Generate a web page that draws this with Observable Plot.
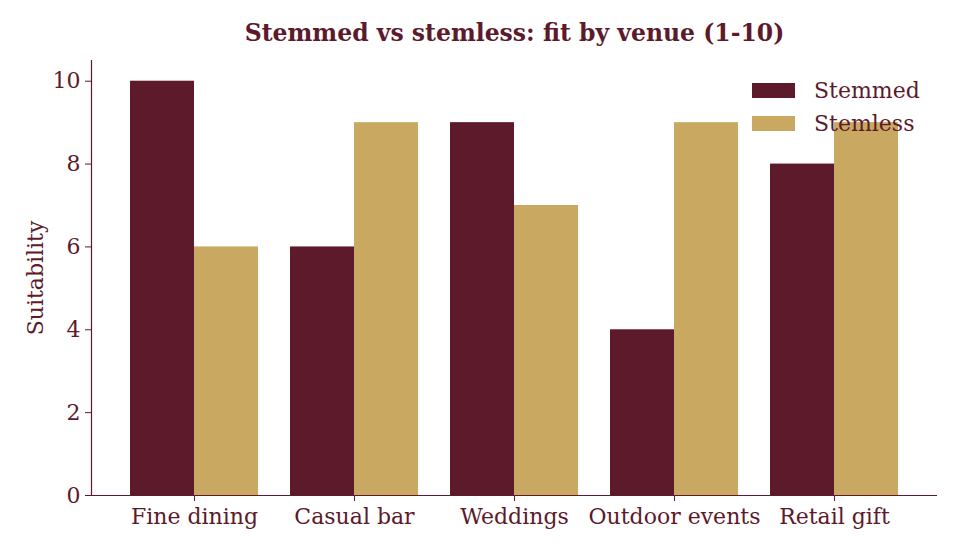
<!DOCTYPE html>
<html>
<head>
<meta charset="utf-8">
<script src="https://cdn.jsdelivr.net/npm/d3@7"></script>
<script src="https://cdn.jsdelivr.net/npm/@observablehq/plot@0.6"></script>
<style>
  html, body { margin: 0; padding: 0; background: #fff; }
  #wrap { position: relative; width: 960px; height: 552px; font-family: "DejaVu Serif", serif; color: #5c1a2b; }
  #legend { position: absolute; left: 752px; top: 74px; font-size: 22px; line-height: 33px; }
  #legend .row { display: flex; align-items: center; }
  #legend .sw { width: 43px; height: 15px; margin-right: 19px; }
</style>
</head>
<body>
<div id="wrap"><div id="legend"></div></div>
<script>
const venues = ["Fine dining", "Casual bar", "Weddings", "Outdoor events", "Retail gift"];
const stemmed = [10, 6, 9, 4, 8];
const stemless = [6, 9, 7, 9, 9];
const seriesNames = ["Stemmed", "Stemless"];
const seriesColors = ["#5c1a2b", "#c9a862"];
const yTicks = [0, 2, 4, 6, 8, 10];
const title = "Stemmed vs stemless: fit by venue (1-10)";

const dataStemmed = venues.map((v, i) => ({venue: v, value: stemmed[i]}));
const dataStemless = venues.map((v, i) => ({venue: v, value: stemless[i]}));

const W = 960, H = 552;
const mL = 91, mR = 23, mT = 60, mB = 57;
const bandwidth = (W - mL - mR) / (venues.length - 0.2 + 2 * 0.24375) * 0.8;
const half = bandwidth / 2;
const ink = "#5c1a2b";

const chart = Plot.plot({
  width: W,
  height: H,
  marginLeft: mL,
  marginRight: mR,
  marginTop: mT,
  marginBottom: mB,
  style: {fontFamily: "DejaVu Serif, serif", fontSize: "22px", color: ink, background: "white", overflow: "visible"},
  x: {domain: venues, paddingInner: 0.2, paddingOuter: 0.24375, label: null},
  y: {domain: [0, 10.5], label: null},
  marks: [
    Plot.barY(dataStemmed, {x: "venue", y: "value", fill: seriesColors[0], insetRight: half}),
    Plot.barY(dataStemless, {x: "venue", y: "value", fill: seriesColors[1], insetLeft: half}),
    Plot.axisX({tickSize: 6, tickPadding: 7, stroke: ink, fill: ink, fontSize: 22, label: null}),
    Plot.axisY({ticks: yTicks, tickSize: 6, tickPadding: 5, stroke: ink, fill: ink, fontSize: 22, label: null}),
    Plot.ruleY([0], {stroke: ink, strokeWidth: 1.2}),
    Plot.frame({anchor: "left", stroke: ink, strokeWidth: 1.2}),
    Plot.text(["Suitability"], {frameAnchor: "left", dx: -56, rotate: -90, textAnchor: "middle", lineAnchor: "middle", fill: ink, fontSize: 22}),
    Plot.text([title], {frameAnchor: "top", dy: -27, lineAnchor: "middle", fill: ink, fontSize: 23.5, fontWeight: "bold"})
  ]
});
document.getElementById("wrap").prepend(chart);

const legend = document.getElementById("legend");
seriesNames.forEach((n, i) => {
  const row = document.createElement("div");
  row.className = "row";
  const sw = document.createElement("div");
  sw.className = "sw";
  sw.style.background = seriesColors[i];
  const t = document.createElement("span");
  t.textContent = n;
  row.appendChild(sw); row.appendChild(t);
  legend.appendChild(row);
});
</script>
</body>
</html>
